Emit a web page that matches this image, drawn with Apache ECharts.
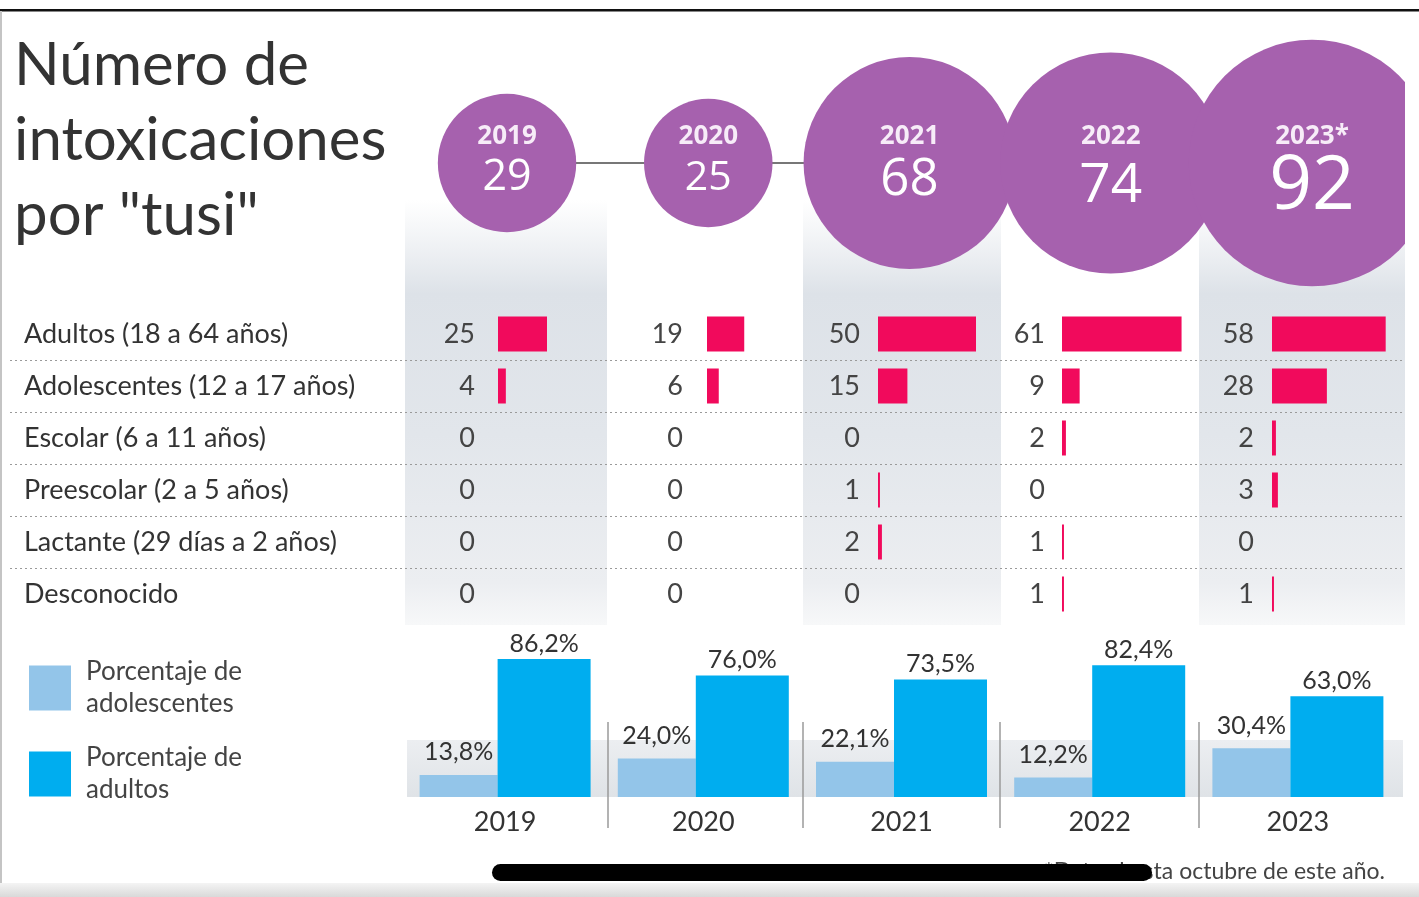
<!DOCTYPE html>
<html>
<head>
<meta charset="utf-8">
<script src="https://cdn.jsdelivr.net/npm/echarts@6/dist/echarts.min.js"></script>
<style>
  html, body { margin: 0; padding: 0; background: #fff; }
  #chart { width: 1419px; height: 897px; }
</style>
</head>
<body>
<div id="chart"></div>
<script>
// ---- datos ----
const filas = [
  'Adultos (18 a 64 años)',
  'Adolescentes (12 a 17 años)',
  'Escolar (6 a 11 años)',
  'Preescolar (2 a 5 años)',
  'Lactante (29 días a 2 años)',
  'Desconocido'
];
const anios = ['2019', '2020', '2021', '2022', '2023'];
const etiquetasAnio = ['2019', '2020', '2021', '2022', '2023*'];
const totales = [29, 25, 68, 74, 92];

const adultos      = [25, 19, 50, 61, 58];
const adolescentes = [4, 6, 15, 9, 28];
const escolar      = [0, 0, 0, 2, 2];
const preescolar   = [0, 0, 1, 0, 3];
const lactante     = [0, 0, 2, 1, 0];
const desconocido  = [0, 0, 0, 1, 1];

const pctAdolescentes = [13.8, 24.0, 22.1, 12.2, 30.4];
const pctAdultos      = [86.2, 76.0, 73.5, 82.4, 63.0];

const grupos = [adultos, adolescentes, escolar, preescolar, lactante, desconocido];

// ---- estilo y maquetación ----
const FONT = 'Lato, "Open Sans", sans-serif';
const FONT_NUM = '"Open Sans", Lato, sans-serif';
const PINK = '#f10a5c';
const PURPLE = '#a661ae';
const LIGHT_BLUE = '#93c5e9';
const CYAN = '#00adef';
const TEXT = '#333';

const TABLE_TOP = 308, ROW_H = 52, TABLE_H = ROW_H * filas.length;
const BAR_START = [498, 707, 878, 1062, 1272];
const LABEL_GAP = [23, 24, 18, 17, 18];
const PX_PER_CASE = 1.96;
const BAR_SCALE_MAX = 70;

const CIRCLE_CY = 163;
const NUM_FONT = [43, 41, 51, 55, 75];
const NUM_DY = [15, 15, 17, 23, 25];
const YEAR_DY = -26;

const grids = [], xAxes = [], yAxes = [], series = [];

// grid 0: etiquetas de filas y separadores punteados
grids.push({ left: 10, top: TABLE_TOP, width: 1395, height: TABLE_H });
xAxes.push({ type: 'value', gridIndex: 0, min: 0, max: 1, show: false });
yAxes.push({
  type: 'category', gridIndex: 0, data: filas, inverse: true, z: 5,
  axisLine: { show: false }, axisTick: { show: false },
  axisLabel: { inside: true, margin: 14, fontFamily: FONT, fontSize: 27, color: TEXT },
  splitLine: { show: true, showMinLine: false, showMaxLine: false,
               lineStyle: { color: '#9a9a9a', type: [2, 3], width: 1 } }
});

// grids 1..5: barras por año
anios.forEach((a, i) => {
  const gi = grids.length;
  grids.push({ left: BAR_START[i], top: TABLE_TOP, width: BAR_SCALE_MAX * PX_PER_CASE, height: TABLE_H });
  xAxes.push({ type: 'value', gridIndex: gi, min: 0, max: BAR_SCALE_MAX, show: false });
  yAxes.push({ type: 'category', gridIndex: gi, data: filas, inverse: true, show: false });
  series.push({
    type: 'bar', name: 'casos ' + a, xAxisIndex: gi, yAxisIndex: gi,
    data: grupos.map(g => g[i]), barWidth: 35, silent: true,
    itemStyle: { color: PINK },
    label: { show: true, position: 'left', distance: LABEL_GAP[i],
             fontFamily: FONT, fontSize: 27, color: '#444' }
  });
});

// grid 6: círculos de totales
const gC = grids.length;
grids.push({ left: 406.4, top: CIRCLE_CY - 100, width: 1006.25, height: 200 });
xAxes.push({ type: 'category', gridIndex: gC, data: anios, show: false });
yAxes.push({ type: 'value', gridIndex: gC, min: -1, max: 1, show: false });
series.push({
  type: 'line', xAxisIndex: gC, yAxisIndex: gC, silent: true, z: 1,
  data: anios.map(a => [a, 0]), symbol: 'none',
  lineStyle: { color: '#777', width: 2 }
});
series.push({
  type: 'scatter', name: 'total', xAxisIndex: gC, yAxisIndex: gC, silent: true, clip: false, z: 3,
  symbolSize: v => 25.7 * Math.sqrt(v[2]),
  itemStyle: { color: PURPLE, opacity: 1 },
  data: totales.map((t, i) => {
    const Ly = 30;
    const Ln = 2 * (NUM_DY[i] - YEAR_DY) - Ly;
    return {
      value: [anios[i], 0, t],
      label: {
        show: true, position: 'inside',
        offset: [0, Ln / 2 + YEAR_DY],
        formatter: '{y|' + etiquetasAnio[i] + '}\n{n|' + t + '}',
        rich: {
          y: { fontFamily: FONT_NUM, fontWeight: 'bold', fontSize: 26, lineHeight: Ly, color: '#f7ecf8' },
          n: { fontFamily: FONT_NUM, fontSize: NUM_FONT[i], lineHeight: Ln, color: '#fff' }
        }
      }
    };
  })
});

// grid 7: porcentajes
const gP = grids.length;
grids.push({ left: 406, top: 637, width: 991, height: 160 });
xAxes.push({
  type: 'category', gridIndex: gP, data: anios,
  axisLine: { show: false }, axisTick: { show: false },
  axisLabel: { margin: 12, fontFamily: FONT, fontSize: 27, color: TEXT }
});
yAxes.push({ type: 'value', gridIndex: gP, min: 0, max: 100, show: false });
const fmtPct = p => p.value.toFixed(1).replace('.', ',') + '%';
series.push({
  type: 'bar', name: 'Porcentaje de adolescentes', xAxisIndex: gP, yAxisIndex: gP,
  data: pctAdolescentes, barWidth: 78, barGap: '0%', silent: true,
  itemStyle: { color: LIGHT_BLUE },
  label: { show: true, position: 'top', distance: 10, formatter: fmtPct,
           fontFamily: FONT, fontSize: 25, color: TEXT }
});
series.push({
  type: 'bar', name: 'Porcentaje de adultos', xAxisIndex: gP, yAxisIndex: gP,
  data: pctAdultos, barWidth: 93, barGap: '0%', silent: true,
  itemStyle: { color: CYAN },
  label: { show: true, position: 'top', distance: 3, formatter: fmtPct,
           fontFamily: FONT, fontSize: 25, color: TEXT }
});

// fondos de columnas alternas
const colGrad = {
  type: 'linear', x: 0, y: 0, x2: 0, y2: 1,
  colorStops: [
    { offset: 0, color: 'rgba(225,229,234,0)' },
    { offset: 0.22, color: '#dde2e8' },
    { offset: 0.55, color: '#e2e6eb' },
    { offset: 0.9, color: '#eceef1' },
    { offset: 1, color: '#f7f8f9' }
  ]
};
const bgCols = [[405, 607], [803, 1001], [1199, 1405]];
const graphics = [];
bgCols.forEach(([x0, x1]) => {
  graphics.push({ type: 'rect', z: 0, silent: true,
    shape: { x: x0, y: 200, width: x1 - x0, height: 425 }, style: { fill: colGrad } });
});
// banda gris bajo las barras de porcentaje
graphics.push({ type: 'rect', z: 0, silent: true,
  shape: { x: 407, y: 740, width: 996, height: 57 },
  style: { fill: { type: 'linear', x: 0, y: 0, x2: 0, y2: 1,
    colorStops: [{ offset: 0, color: '#eceef1' }, { offset: 1, color: '#dfe3e7' }] } } });
// separadores verticales entre años
[608, 803, 1000, 1199].forEach(x => {
  graphics.push({ type: 'line', z: 1, silent: true,
    shape: { x1: x, y1: 722, x2: x, y2: 828 }, style: { stroke: '#9a9a9a', lineWidth: 1.5 } });
});
// nota al pie
graphics.push({ type: 'text', z: 5, silent: true,
  style: { text: '*Datos hasta octubre de este año.', x: 1385, y: 872, align: 'right', verticalAlign: 'middle',
           fontFamily: FONT, fontSize: 23, fill: '#444' } });
graphics.push({ type: 'rect', z: 20, silent: true,
  shape: { x: 492, y: 864, width: 660, height: 17, r: 8.5 }, style: { fill: '#000' } });
// franja inferior gris
graphics.push({ type: 'rect', z: 20, silent: true,
  shape: { x: 0, y: 883, width: 1419, height: 14 },
  style: { fill: { type: 'linear', x: 0, y: 0, x2: 0, y2: 1,
    colorStops: [{ offset: 0, color: '#f4f4f4' }, { offset: 1, color: '#d9d9d9' }] } } });
// marco
graphics.push({ type: 'rect', z: 50, silent: true,
  shape: { x: 1405, y: 12, width: 14, height: 850 }, style: { fill: '#fff' } });
graphics.push({ type: 'rect', z: 60, silent: true,
  shape: { x: 0, y: 9, width: 1419, height: 2.5 }, style: { fill: '#111' } });
graphics.push({ type: 'rect', z: 60, silent: true,
  shape: { x: 0, y: 11, width: 2, height: 872 }, style: { fill: '#c4c4c4' } });

const chart = echarts.init(document.getElementById('chart'), null, { renderer: 'canvas' });
chart.setOption({
  animation: false,
  backgroundColor: '#fff',
  title: {
    text: 'Número de\nintoxicaciones\npor "tusi"',
    left: 14, top: 28, padding: 0,
    textStyle: { fontFamily: FONT, fontWeight: 'normal', fontSize: 60, lineHeight: 75, color: TEXT }
  },
  legend: {
    data: ['Porcentaje de adolescentes', 'Porcentaje de adultos'],
    orient: 'vertical', left: 29, top: 656, padding: 0,
    itemWidth: 42, itemHeight: 45, itemGap: 22, icon: 'rect',
    selectedMode: false,
    formatter: n => n.replace(' de ', ' de\n'),
    textStyle: { fontFamily: FONT, fontSize: 26, lineHeight: 32, color: '#444', padding: [0, 0, 0, 10] }
  },
  grid: grids,
  xAxis: xAxes,
  yAxis: yAxes,
  series: series,
  graphic: { elements: graphics }
});
</script>
</body>
</html>
